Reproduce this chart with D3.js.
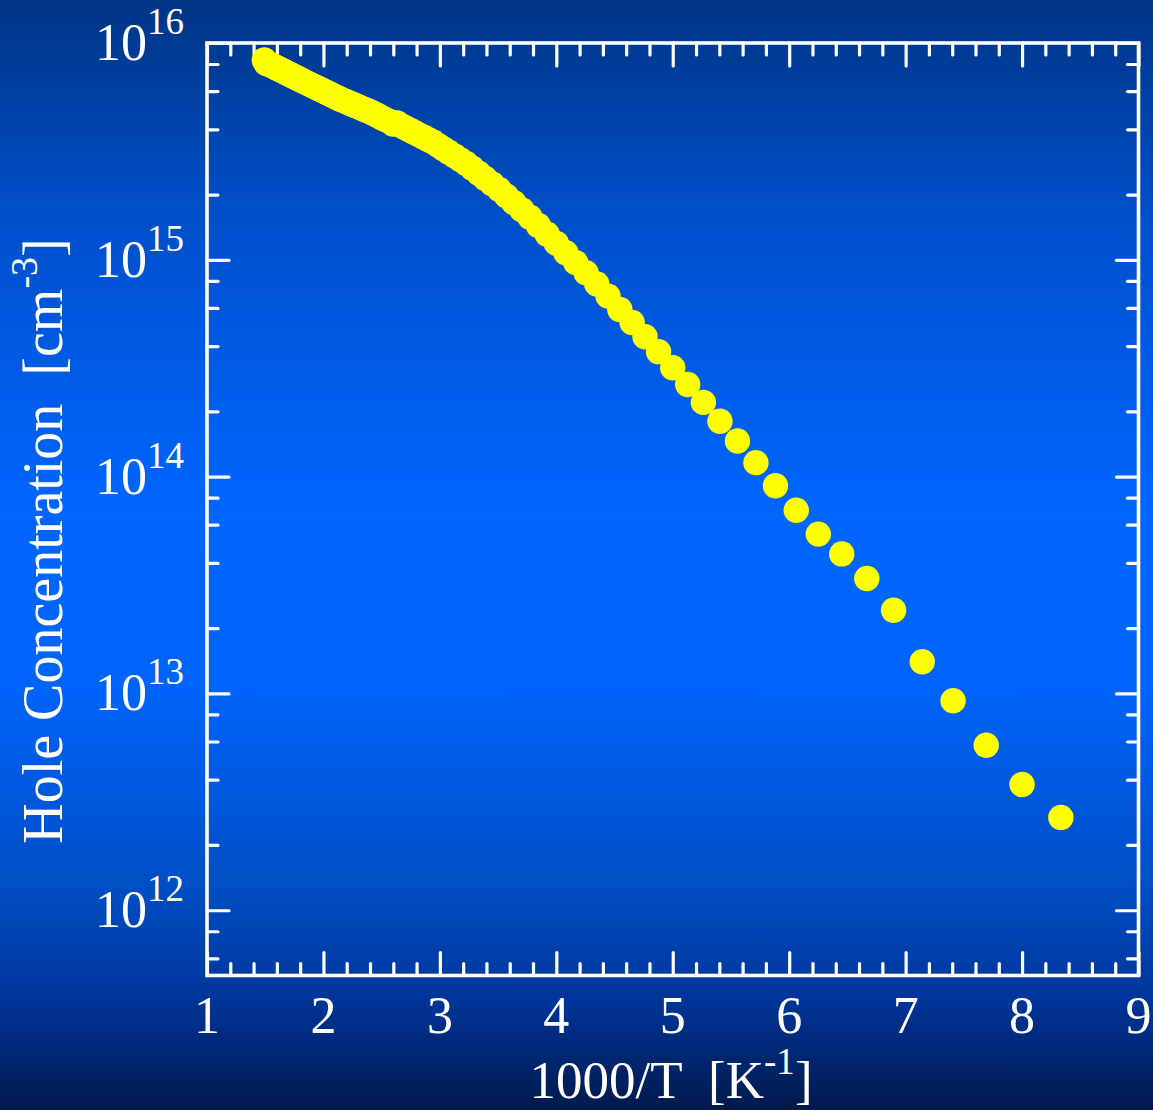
<!DOCTYPE html>
<html>
<head>
<meta charset="utf-8">
<script src="https://cdn.jsdelivr.net/npm/d3@7"></script>
<style>
  html, body { margin: 0; padding: 0; background: #003687; }
  svg { display: block; }
  text { font-family: "Liberation Serif", "Times New Roman", serif; fill: #ffffff; }
</style>
</head>
<body>
<svg id="chart" width="1153" height="1110"></svg>
<script>
// Measurement temperatures (K), one point every 5 K
const temperatures = [
  120, 125, 130, 135, 140, 145, 150, 155, 160, 165, 170, 175, 180, 185, 190, 195,
  200, 205, 210, 215, 220, 225, 230, 235, 240, 245, 250, 255, 260, 265, 270, 275,
  280, 285, 290, 295, 300, 305, 310, 315, 320, 325, 330, 335, 340, 345, 350, 355,
  360, 365, 370, 375, 380, 385, 390, 395, 400, 405, 410, 415, 420, 425, 430, 435,
  440, 445, 450, 455, 460, 465, 470, 475, 480, 485, 490, 495, 500, 505, 510, 515,
  520, 525, 530, 535, 540, 545, 550, 555, 560, 565, 570, 575, 580, 585, 590, 595,
  600, 605, 610, 615, 620, 625, 630, 635, 640, 645, 650, 655, 660, 665, 670
];

// Hole concentration (cm^-3) at each temperature above
const holeConcentration = [
  2.68e12, 3.80e12, 5.77e12, 9.25e12, 1.40e13, 2.42e13, 3.39e13, 4.40e13,
  5.43e13, 7.00e13, 9.07e13, 1.16e14, 1.46e14, 1.80e14, 2.20e14, 2.66e14,
  3.18e14, 3.77e14, 4.42e14, 5.14e14, 5.90e14, 6.80e14, 7.73e14, 8.71e14,
  9.71e14, 1.078e15, 1.191e15, 1.312e15, 1.441e15, 1.571e15, 1.70e15, 1.833e15,
  1.972e15, 2.113e15, 2.241e15, 2.373e15, 2.508e15, 2.645e15, 2.780e15, 2.898e15,
  3.017e15, 3.135e15, 3.25e15, 3.373e15, 3.493e15, 3.587e15, 3.683e15, 3.779e15,
  3.877e15, 3.972e15, 4.066e15, 4.159e15, 4.279e15, 4.229e15, 4.362e15, 4.432e15,
  4.523e15, 4.62e15, 4.709e15, 4.794e15, 4.867e15, 4.94e15, 5.009e15, 5.083e15,
  5.154e15, 5.219e15, 5.292e15, 5.354e15, 5.424e15, 5.493e15, 5.563e15, 5.64e15,
  5.714e15, 5.793e15, 5.861e15, 5.937e15, 6.006e15, 6.083e15, 6.148e15, 6.221e15,
  6.293e15, 6.361e15, 6.429e15, 6.497e15, 6.567e15, 6.637e15, 6.701e15, 6.772e15,
  6.836e15, 6.909e15, 6.976e15, 7.036e15, 7.102e15, 7.171e15, 7.233e15, 7.295e15,
  7.364e15, 7.427e15, 7.491e15, 7.546e15, 7.611e15, 7.676e15, 7.734e15, 7.792e15,
  7.849e15, 7.90e15, 7.95e15, 8.00e15, 8.04e15, 8.09e15, 8.35e15
];

// Axis ticks
const xMajorTicks = [1, 2, 3, 4, 5, 6, 7, 8, 9];
const xTickLabels = ["1", "2", "3", "4", "5", "6", "7", "8", "9"];
const yDecades = [1e12, 1e13, 1e14, 1e15, 1e16];
const yExponents = ["12", "13", "14", "15", "16"];

const xTitle = { main: "1000/T  [K", sup: "-1", tail: "]" };
const yTitle = { main: "Hole Concentration  [cm", sup: "-3", tail: "]" };

(function draw() {
  const svg = d3.select("#chart");
  const W = 1153, H = 1110;
  const plotL = 207, plotR = 1138.5, plotT = 43, plotB = 975.5;

  // Background gradient
  const defs = svg.append("defs");
  const grad = defs.append("linearGradient").attr("id", "bg")
    .attr("x1", 0).attr("y1", 0).attr("x2", 0).attr("y2", 1);
  [[0, "#003585"], [0.2, "#0050cc"], [0.46, "#0066ff"], [0.62, "#0064fa"],
   [0.8, "#004ec4"], [0.9, "#00359a"], [1, "#001a4b"]]
    .forEach(([o, c]) => grad.append("stop").attr("offset", o).attr("stop-color", c));
  svg.append("rect").attr("width", W).attr("height", H).attr("fill", "url(#bg)");

  const x = d3.scaleLinear().domain([1, 9]).range([plotL, plotR]);
  const y = d3.scaleLog().domain([5e11, 1e16]).range([plotB, plotT]);

  // Minor tick positions
  const xMinorTicks = d3.range(1, 9.001, 0.2).map(v => +v.toFixed(1))
    .filter(v => !xMajorTicks.includes(v));
  const yMinorTicks = [];
  [1e11, 1e12, 1e13, 1e14, 1e15].forEach(d => [2, 4, 6, 8].forEach(m => {
    const v = d * m;
    if (v >= 5e11 && v <= 1e16) yMinorTicks.push(v);
  }));

  function styleAxis(g) {
    g.select(".domain").remove();
    g.selectAll(".tick text").remove();
    g.selectAll(".tick line")
      .attr("stroke", "#ffffff").attr("stroke-width", 3.2).attr("stroke-linecap", "round");
  }

  const axes = svg.append("g");
  // Bottom and top (ticks point inward)
  axes.append("g").attr("transform", `translate(0,${plotB})`)
    .call(d3.axisBottom(x).tickValues(xMajorTicks).tickSize(-23)).call(styleAxis);
  axes.append("g").attr("transform", `translate(0,${plotB})`)
    .call(d3.axisBottom(x).tickValues(xMinorTicks).tickSize(-12)).call(styleAxis);
  axes.append("g").attr("transform", `translate(0,${plotT})`)
    .call(d3.axisTop(x).tickValues(xMajorTicks).tickSize(-23)).call(styleAxis);
  axes.append("g").attr("transform", `translate(0,${plotT})`)
    .call(d3.axisTop(x).tickValues(xMinorTicks).tickSize(-12)).call(styleAxis);
  // Left and right
  axes.append("g").attr("transform", `translate(${plotL},0)`)
    .call(d3.axisLeft(y).tickValues(yDecades).tickSize(-22)).call(styleAxis);
  axes.append("g").attr("transform", `translate(${plotL},0)`)
    .call(d3.axisLeft(y).tickValues(yMinorTicks).tickSize(-11)).call(styleAxis);
  axes.append("g").attr("transform", `translate(${plotR},0)`)
    .call(d3.axisRight(y).tickValues(yDecades).tickSize(-22)).call(styleAxis);
  axes.append("g").attr("transform", `translate(${plotR},0)`)
    .call(d3.axisRight(y).tickValues(yMinorTicks).tickSize(-11)).call(styleAxis);

  // Frame
  svg.append("rect")
    .attr("x", plotL).attr("y", plotT)
    .attr("width", plotR - plotL).attr("height", plotB - plotT)
    .attr("fill", "none").attr("stroke", "#ffffff").attr("stroke-width", 3.6);

  // X tick labels
  svg.append("g").selectAll("text").data(xMajorTicks).join("text")
    .attr("x", d => x(d)).attr("y", 1033)
    .attr("text-anchor", "middle").attr("font-size", 52)
    .text((d, i) => xTickLabels[i]);

  // Y tick labels: 10 with superscript exponent
  const yl = svg.append("g").selectAll("text").data(yDecades).join("text")
    .attr("x", 184).attr("y", d => y(d) + 17)
    .attr("text-anchor", "end").attr("font-size", 52);
  yl.append("tspan").text("10");
  yl.append("tspan").attr("font-size", 37).attr("dy", -26).text((d, i) => yExponents[i]);

  // Axis titles
  const xt = svg.append("text")
    .attr("x", 671).attr("y", 1098).attr("text-anchor", "middle")
    .attr("font-size", 53).attr("xml:space", "preserve").style("white-space", "pre");
  xt.append("tspan").text(xTitle.main);
  xt.append("tspan").attr("font-size", 37).attr("dy", -24).text(xTitle.sup);
  xt.append("tspan").attr("dy", 24).text(xTitle.tail);

  const yt = svg.append("text")
    .attr("transform", "translate(62,541) rotate(-90)").attr("text-anchor", "middle")
    .attr("font-size", 56).attr("xml:space", "preserve").style("white-space", "pre");
  yt.append("tspan").text(yTitle.main);
  yt.append("tspan").attr("font-size", 38).attr("dy", -25).text(yTitle.sup);
  yt.append("tspan").attr("dy", 25).text(yTitle.tail);

  // Data points
  const points = temperatures.map((t, i) => ({ inv: 1000 / t, n: holeConcentration[i] }));
  svg.append("g").selectAll("circle").data(points).join("circle")
    .attr("cx", d => x(d.inv)).attr("cy", d => y(d.n))
    .attr("r", 12.7).attr("fill", "#ffff00");
})();
</script>
</body>
</html>
